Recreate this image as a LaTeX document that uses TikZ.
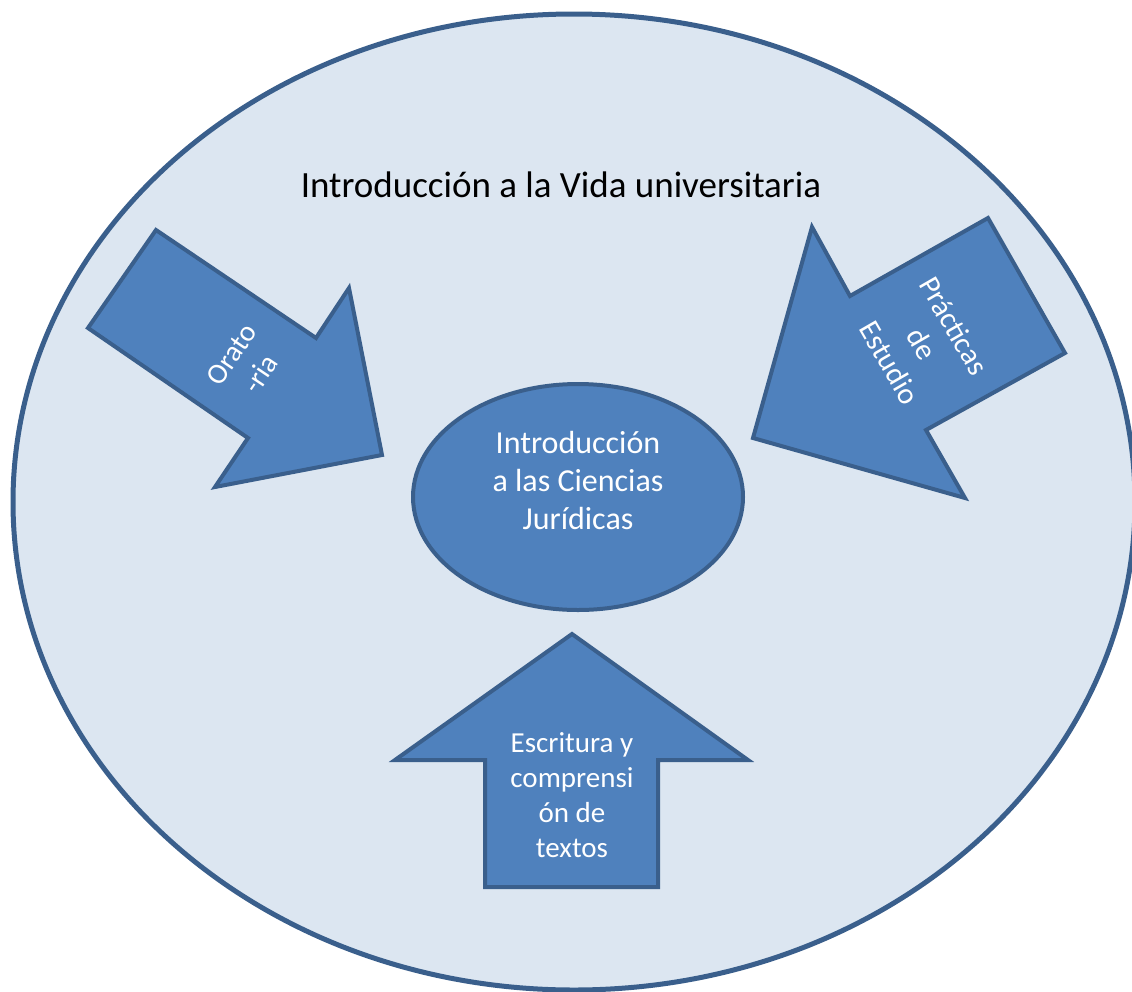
\documentclass[tikz,border=0pt]{standalone}
\usepackage{fontspec}
\setmainfont{Carlito}
\usepackage{tikz}
\usetikzlibrary{shapes,positioning,calc}
\usepackage{xcolor}
\definecolor{paleblue}{HTML}{DCE6F1}
\definecolor{midblue}{HTML}{4F81BD}
\definecolor{edgeblue}{HTML}{3A5F8C}
\tikzset{
    outer/.style={draw=edgeblue, fill=paleblue, line width=5pt, ellipse, minimum width=1122pt, minimum height=976pt, inner sep=0pt},
    core/.style={draw=edgeblue, fill=midblue, line width=4pt, ellipse, minimum width=330pt, minimum height=226pt, inner sep=0pt},
    blockarrow/.style={draw=edgeblue, fill=midblue, line width=4pt, line join=miter},
    label/.style={text=white, align=center, font=\fontsize{29}{35}\selectfont}
}

\begin{document}
\begin{tikzpicture}[x=1pt, y=-1pt]
        \useasboundingbox (0,0) rectangle (1132,991);
        \clip (0,0) rectangle (1132,991);

        % Outer ellipse
        \node[outer] (vida) at (574,502) {};
        \node[font=\fontsize{37}{44}\selectfont] (title) at (561,185) {Introducción a la Vida universitaria};

        % Centre
        \node[core] (ciencias) at (578,497) {};
        \node[label, font=\fontsize{32}{38}\selectfont] (cienciastext) at (578,480) {Introducción\\a las Ciencias\\Jurídicas};

        % Left arrow
        \draw[blockarrow] (156,230) -- (316,338) -- (349,288) -- (382,455)
            -- (215,487) -- (248,438) -- (88,328) -- cycle;
        \node[label, rotate=56] (oratoria) at (246,364) {Orato\\-ria};

        % Right arrow
        \draw[blockarrow] (988,218) -- (1065,353) -- (926,430) -- (965,498)
            -- (753,438) -- (812,227) -- (850,296) -- cycle;
        \node[label, rotate=-60, font=\fontsize{30}{37}\selectfont] (practicas) at (922,344) {Prácticas\\de\\Estudio};

        % Bottom arrow
        \draw[blockarrow] (572,634) -- (748,760) -- (658,760) -- (658,887)
            -- (485,887) -- (485,760) -- (395,760) -- cycle;
        \node[label] (escritura) at (572,795) {Escritura y\\comprensi\\ón de\\textos};
\end{tikzpicture}
\end{document}
